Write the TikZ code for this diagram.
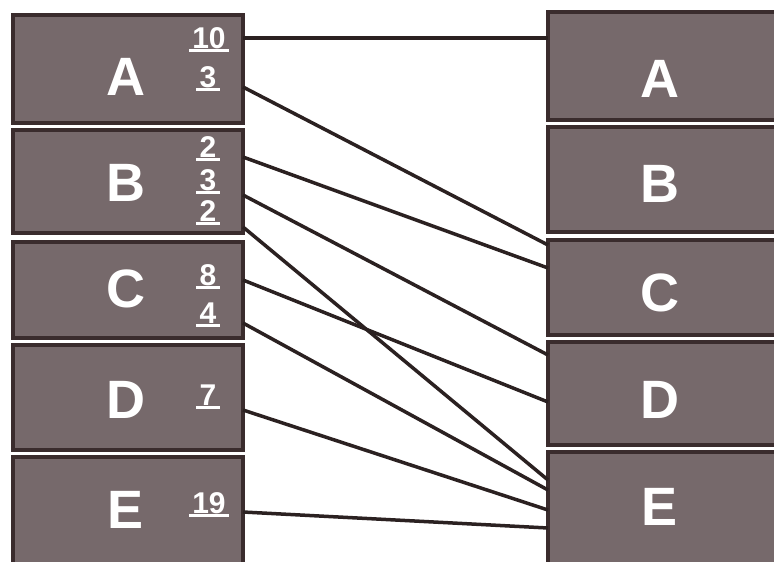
\documentclass[tikz,border=0pt]{standalone}
\usepackage{fontspec}
\setmainfont{Liberation Sans}
\usetikzlibrary{positioning}
\definecolor{BoxFill}{HTML}{76696B}
\definecolor{BoxEdge}{HTML}{3A2C2D}
\definecolor{Wire}{HTML}{2B2121}

\begin{document}
\begin{tikzpicture}[x=1pt,y=-1pt,
    box/.style={draw=BoxEdge, fill=BoxFill, line width=3.5pt, outer sep=0pt, inner sep=0pt},
    letter/.style={text=white, font=\fontsize{54}{54}\selectfont\bfseries, inner sep=0pt},
    num/.style={text=white, font=\fontsize{30}{30}\selectfont\bfseries,
                inner xsep=3pt, inner ysep=1.5pt, text depth=0pt, anchor=base},
    uline/.style={draw=white, line width=2.5pt},
    wire/.style={draw=Wire, line width=3.5pt}]
  \fill[white] (0,0) rectangle (774,562);
  \useasboundingbox (0,0) rectangle (774,562);

  % left column
  \node[box, minimum width=230, minimum height=108] (lA) at (128,69) {};
  \node[box, minimum width=230, minimum height=103] (lB) at (128,181.5) {};
  \node[box, minimum width=230, minimum height=96] (lC) at (128,290) {};
  \node[box, minimum width=230, minimum height=105] (lD) at (128,397.5) {};
  \node[box, minimum width=230, minimum height=118] (lE) at (128,516) {};
  \node[letter] (lAt) at (126,77) {A};
  \node[letter] (lBt) at (126,183) {B};
  \node[letter] (lCt) at (126,289) {C};
  \node[letter] (lDt) at (126,400) {D};
  \node[letter] (lEt) at (126,510) {E};

  % right column
  \node[box, minimum width=228, minimum height=108] (rA) at (662,66) {};
  \node[box, minimum width=228, minimum height=105] (rB) at (662,179.5) {};
  \node[box, minimum width=228, minimum height=95] (rC) at (662,287.5) {};
  \node[box, minimum width=228, minimum height=103] (rD) at (662,393.5) {};
  \node[box, minimum width=228, minimum height=123] (rE) at (662,513.5) {};
  \node[letter] (rAt) at (660,79) {A};
  \node[letter] (rBt) at (660,184) {B};
  \node[letter] (rCt) at (660,293) {C};
  \node[letter] (rDt) at (660,400) {D};
  \node[letter] (rEt) at (660,507) {E};

  % counts
  \node[num] (nA1) at (209,48) {10};
  \node[num] (nA2) at (208,87) {3};
  \node[num] (nB1) at (208,157) {2};
  \node[num] (nB2) at (208,190) {3};
  \node[num] (nB3) at (208,221) {2};
  \node[num] (nC1) at (208,285) {8};
  \node[num] (nC2) at (208,323) {4};
  \node[num] (nD1) at (208,405) {7};
  \node[num] (nE1) at (209,513) {19};
  \foreach \n in {nA1,nA2,nB1,nB2,nB3,nC1,nC2,nD1,nE1}
    \draw[uline] ([yshift=-1pt]\n.south west) -- ([yshift=-1pt]\n.south east);

  % wire ends
  \coordinate (sA1) at (lA.east |- 0,38);
  \coordinate (sA2) at (lA.east |- 0,87);
  \coordinate (sB1) at (lB.east |- 0,157);
  \coordinate (sB2) at (lB.east |- 0,195);
  \coordinate (sB3) at (lB.east |- 0,227);
  \coordinate (sC1) at (lC.east |- 0,280);
  \coordinate (sC2) at (lC.east |- 0,323);
  \coordinate (sD1) at (lD.east |- 0,410);
  \coordinate (sE1) at (lE.east |- 0,512);
  \coordinate (eA1) at (rA.west |- 0,38);
  \coordinate (eC1) at (rC.west |- 0,245);
  \coordinate (eC2) at (rC.west |- 0,268);
  \coordinate (eD1) at (rD.west |- 0,355);
  \coordinate (eD2) at (rD.west |- 0,402);
  \coordinate (eE1) at (rE.west |- 0,480);
  \coordinate (eE2) at (rE.west |- 0,490);
  \coordinate (eE3) at (rE.west |- 0,510);
  \coordinate (eE4) at (rE.west |- 0,528);
  \foreach \a/\b in {sA1/eA1, sA2/eC1, sB1/eC2, sB2/eD1, sB3/eE1,
                     sC1/eD2, sC2/eE2, sD1/eE3, sE1/eE4}
    \draw[wire] (\a) -- (\b);
\end{tikzpicture}
\end{document}
